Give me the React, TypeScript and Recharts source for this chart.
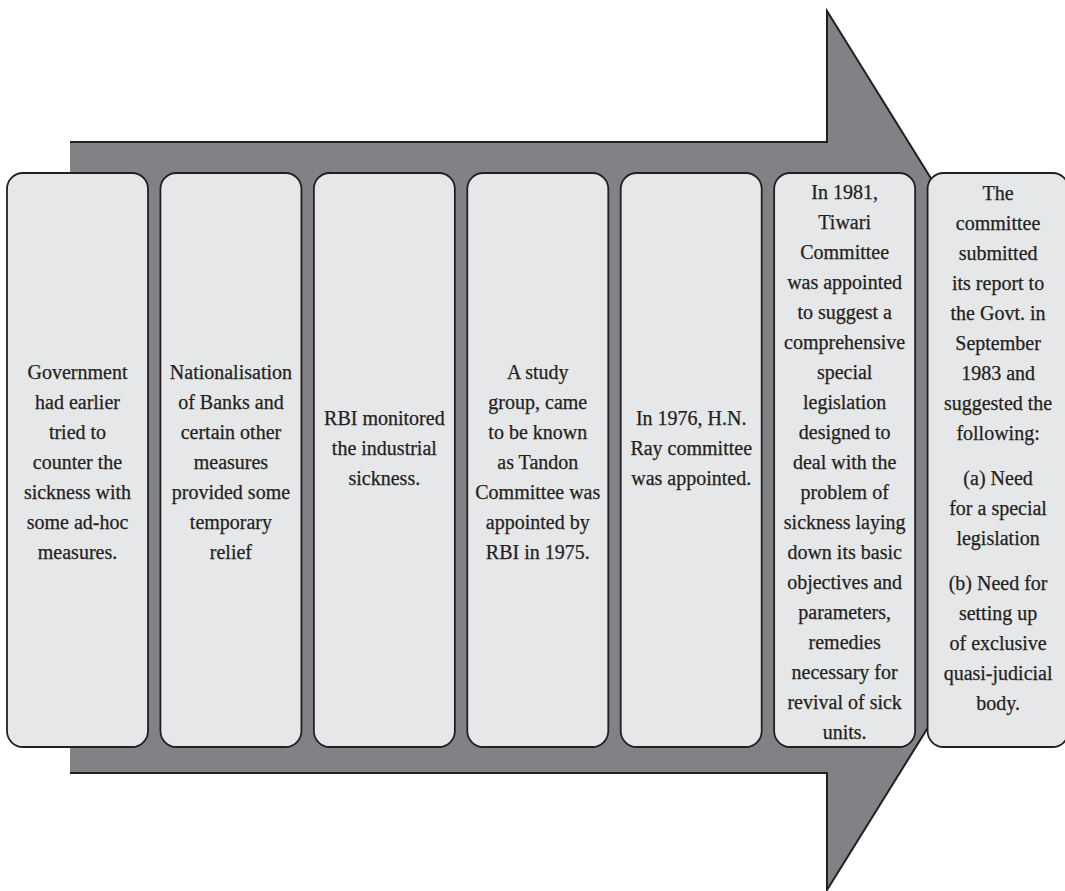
import { AreaChart, Area, BarChart, Bar, XAxis, YAxis } from 'recharts';

// steps along the arrow, left to right
const STEPS = ['step1', 'step2', 'step3', 'step4', 'step5', 'step6', 'step7'];

// text of each box, one entry per printed line ('' = paragraph gap)
const STEP1 = ['Government', 'had earlier', 'tried to', 'counter the', 'sickness with', 'some ad-hoc', 'measures.'];
const STEP2 = ['Nationalisation', 'of Banks and', 'certain other', 'measures', 'provided some', 'temporary', 'relief'];
const STEP3 = ['RBI monitored', 'the industrial', 'sickness.'];
const STEP4 = ['A study', 'group, came', 'to be known', 'as Tandon', 'Committee was', 'appointed by', 'RBI in 1975.'];
const STEP5 = ['In 1976, H.N.', 'Ray committee', 'was appointed.'];
const STEP6 = [
  'In 1981,', 'Tiwari', 'Committee', 'was appointed', 'to suggest a', 'comprehensive', 'special',
  'legislation', 'designed to', 'deal with the', 'problem of', 'sickness laying', 'down its basic',
  'objectives and', 'parameters,', 'remedies', 'necessary for', 'revival of sick', 'units.',
];
const STEP7 = [
  'The', 'committee', 'submitted', 'its report to', 'the Govt. in', 'September', '1983 and',
  'suggested the', 'following:', '', '(a) Need', 'for a special', 'legislation', '',
  '(b) Need for', 'setting up', 'of exclusive', 'quasi-judicial', 'body.',
];
const STEP_TEXT = [STEP1, STEP2, STEP3, STEP4, STEP5, STEP6, STEP7];

// the big arrow behind the boxes, as an outline on a pixel grid (x, top edge, bottom edge)
const ARROW_X = [70, 827, 827, 1100];
const ARROW_TOP = [142, 142, 11, 450.5];
const ARROW_BOTTOM = [773, 773, 890, 450.5];

// layout (pixels)
const W = 1065;
const H = 891;
const BOX_TOP = 173;
const BOX_BOTTOM = 747;
const TEXT_MID = [462, 462, 448, 462, 448, 462, 448];
const LINE_H = 30;
const PARA_GAP = 15;

const INK = '#231f20';

const arrowData = ARROW_X.map((x, i) => ({ x, band: [ARROW_TOP[i], ARROW_BOTTOM[i]] }));
const data = STEPS.map((step, i) => ({ step, lines: STEP_TEXT[i] }));

function BoxShape(props: any) {
  const { x, y, width, height, payload, index } = props;
  const top = Math.min(y, y + height);
  const h = Math.abs(height);
  const cx = x + width / 2;
  const lines: string[] = payload.lines;
  const gaps = lines.filter((l) => l === '').length;
  const n = lines.length - gaps;
  const span = (n - 1) * LINE_H + gaps * PARA_GAP;
  let cy = TEXT_MID[index] - span / 2;
  const rows: { t: string; y: number }[] = [];
  lines.forEach((t) => {
    if (t === '') {
      cy += PARA_GAP;
      return;
    }
    rows.push({ t, y: cy });
    cy += LINE_H;
  });
  return (
    <g>
      <rect x={x} y={top} width={width} height={h} rx={16} ry={16} fill="#e6e7e8" stroke={INK} strokeWidth={1.8} />
      {rows.map((r, i) => (
        <text
          key={i}
          x={cx}
          y={r.y}
          dy="0.35em"
          textAnchor="middle"
          fontFamily="'Liberation Serif', serif"
          fontSize={20}
          fill={INK}
          stroke={INK}
          strokeWidth={0.25}
        >
          {r.t}
        </text>
      ))}
    </g>
  );
}

export default function App() {
  return (
    <div style={{ position: 'absolute', left: 0, top: 0, width: W, height: H, overflow: 'hidden', background: '#fff' }}>
      <div style={{ position: 'absolute', left: 0, top: 0 }}>
        <AreaChart width={W} height={H} data={arrowData} margin={{ top: 0, right: 0, bottom: 0, left: 0 }}>
          <XAxis dataKey="x" type="number" domain={[0, W]} hide allowDataOverflow />
          <YAxis type="number" domain={[0, H]} reversed hide allowDataOverflow />
          <Area
            dataKey="band"
            type="linear"
            fill="#808285"
            fillOpacity={1}
            stroke={INK}
            strokeWidth={2}
            dot={false}
            activeDot={false}
            isAnimationActive={false}
          />
        </AreaChart>
      </div>
      <div style={{ position: 'absolute', left: 0, top: 0 }}>
        <BarChart width={1075} height={H} data={data} margin={{ top: 0, right: 0, bottom: 0, left: 1 }} barSize={141}>
          <XAxis dataKey="step" hide />
          <YAxis type="number" domain={[0, H]} reversed hide allowDataOverflow />
          <Bar dataKey={() => [BOX_TOP, BOX_BOTTOM]} shape={BoxShape} isAnimationActive={false} />
        </BarChart>
      </div>
    </div>
  );
}
